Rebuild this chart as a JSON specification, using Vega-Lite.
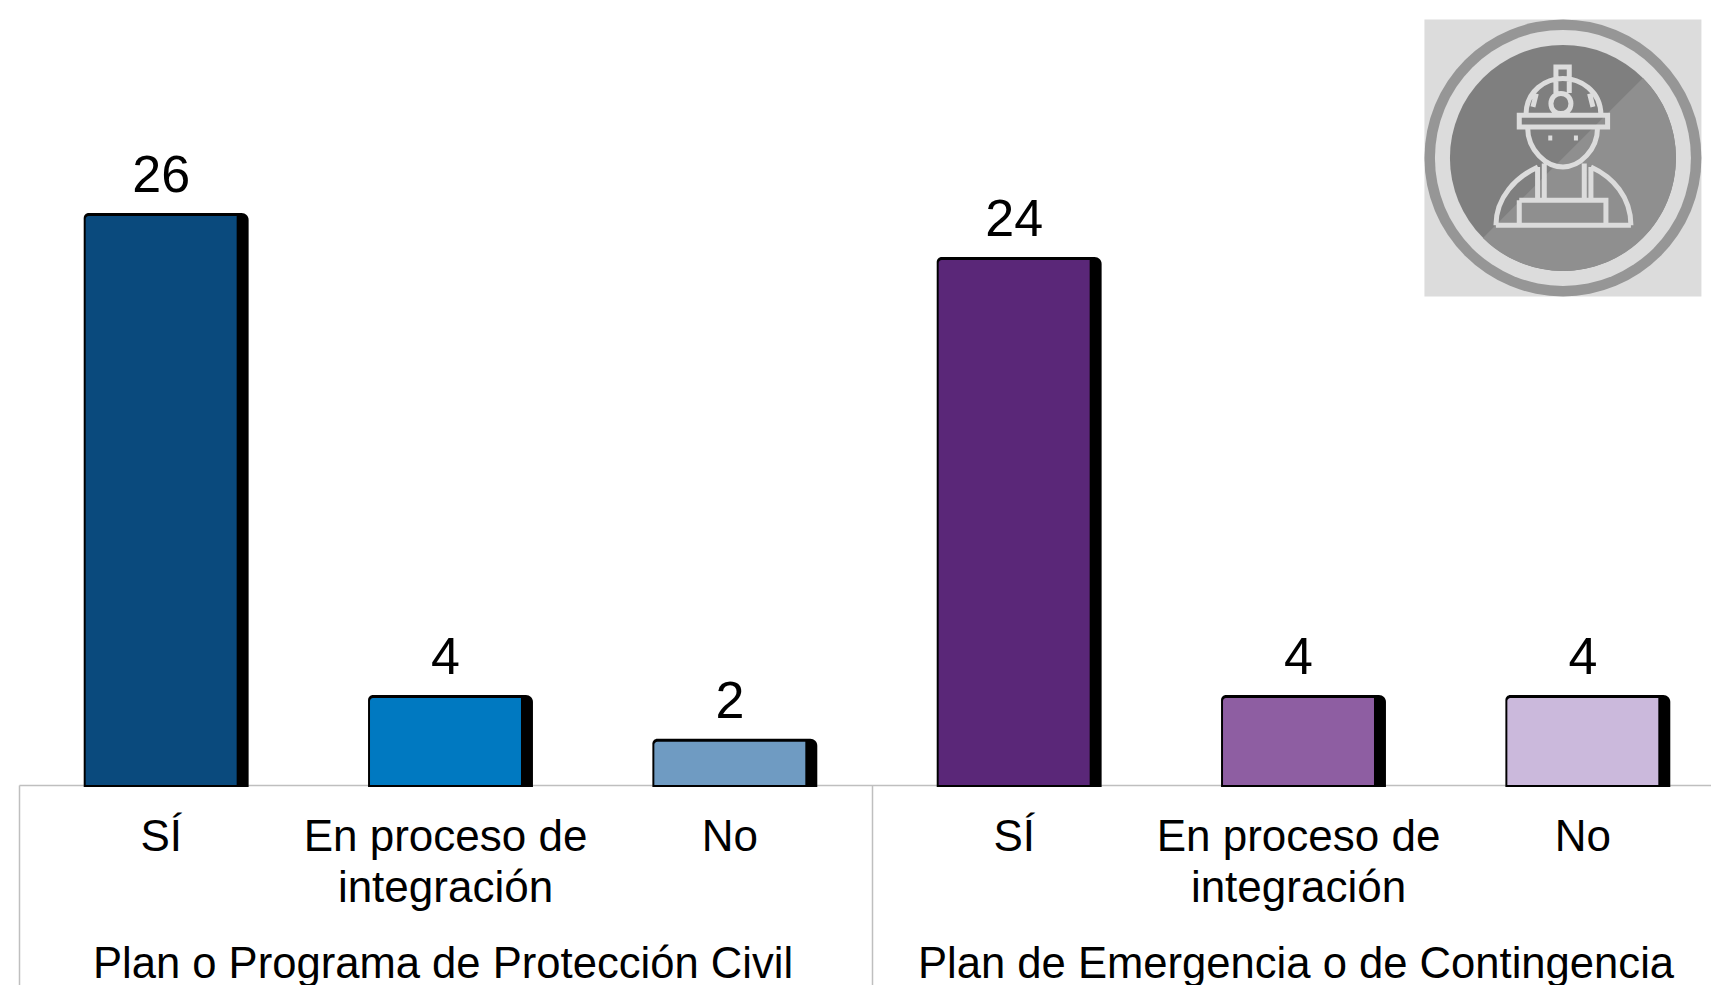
{"$schema":"https://vega.github.io/schema/vega-lite/v6.json","width":1711,"height":785,"autosize":{"type":"none"},"padding":{"left":0,"top":0,"right":0,"bottom":200},"background":"white","config":{"view":{"stroke":null},"font":"Liberation Sans"},"datasets":{"d":[{"key":"Protección Civil · SÍ","group":"Plan o Programa de Protección Civil","answer":"SÍ","value":26},{"key":"Protección Civil · En proceso de integración","group":"Plan o Programa de Protección Civil","answer":"En proceso de integración","value":4},{"key":"Protección Civil · No","group":"Plan o Programa de Protección Civil","answer":"No","value":2},{"key":"Emergencia · SÍ","group":"Plan de Emergencia o de Contingencia","answer":"SÍ","value":24},{"key":"Emergencia · En proceso de integración","group":"Plan de Emergencia o de Contingencia","answer":"En proceso de integración","value":4},{"key":"Emergencia · No","group":"Plan de Emergencia o de Contingencia","answer":"No","value":4}],"icon":[{"name":"icono"}]},"resolve":{"scale":{"x":"independent"},"axis":{"x":"independent"}},"layer":[{"data":{"name":"d"},"mark":{"type":"bar","opacity":0},"encoding":{"x":{"field":"group","type":"nominal","sort":null,"title":null,"scale":{"domain":["Plan o Programa de Protección Civil","Plan de Emergencia o de Contingencia"],"range":[19,1725],"paddingInner":0,"paddingOuter":0},"axis":{"orient":"bottom","labelAngle":0,"labelLimit":0,"labelFontSize":43.6,"labelColor":"black","labelFont":"Liberation Sans","labelPadding":-42,"labelOffset":-3,"labelBaseline":"top","tickBand":"extent","tickSize":200,"tickColor":"#bfbfbf","tickWidth":1.5,"domainColor":"#bfbfbf","domainWidth":1.5,"labelOverlap":false,"labelBound":false}},"y":{"field":"value","type":"quantitative","stack":null,"axis":null,"scale":{"domain":[-0.114,35.73],"range":[785,0],"nice":false,"zero":false}}}},{"layer":[{"data":{"name":"d"},"mark":{"type":"bar","color":"black","xOffset":5,"width":{"band":0.58},"cornerRadiusTopLeft":5,"cornerRadiusTopRight":7},"encoding":{"x":{"field":"key","type":"nominal","sort":null,"title":null,"scale":{"domain":["Protección Civil · SÍ","Protección Civil · En proceso de integración","Protección Civil · No","Emergencia · SÍ","Emergencia · En proceso de integración","Emergencia · No"],"range":[19,1725],"paddingInner":0,"paddingOuter":0},"axis":{"orient":"bottom","labelAngle":0,"labelLimit":0,"labelFontSize":44,"labelColor":"black","labelFont":"Liberation Sans","labelPadding":30,"labelBaseline":"top","labelLineHeight":51,"labelOverlap":false,"labelBound":false,"ticks":false,"domain":false,"labelExpr":"indexof(datum.label,'proceso')>=0?['En proceso de','integración']:split(datum.label,' · ')[1]"}},"y":{"field":"value","type":"quantitative","stack":null},"y2":{"datum":-0.2}}},{"data":{"name":"d"},"mark":{"type":"bar","yOffset":3,"y2Offset":0,"width":{"band":0.531},"cornerRadiusTopLeft":3},"encoding":{"x":{"field":"key","type":"nominal","sort":null},"y":{"field":"value","type":"quantitative","stack":null},"y2":{"datum":-0.114},"color":{"field":"key","type":"nominal","legend":null,"scale":{"domain":["Protección Civil · SÍ","Protección Civil · En proceso de integración","Protección Civil · No","Emergencia · SÍ","Emergencia · En proceso de integración","Emergencia · No"],"range":["#0a4a7d","#0079c1","#6f9bc2","#5a2778","#8e5ea2","#cbb9dc"]}}}},{"data":{"name":"d"},"mark":{"type":"text","fontSize":52,"font":"Liberation Sans","color":"black","baseline":"alphabetic","align":"center","dy":-21},"encoding":{"x":{"field":"key","type":"nominal","sort":null},"y":{"field":"value","type":"quantitative","stack":null},"text":{"field":"value","type":"quantitative"}}},{"data":{"name":"icon"},"mark":{"type":"point","shape":"square","filled":true,"color":"#dcdcdc","opacity":1,"size":76729},"encoding":{"x":{"datum":"Emergencia · No","type":"nominal","bandPosition":0.43},"y":{"datum":28.52,"type":"quantitative"}}},{"data":{"name":"icon"},"mark":{"type":"point","shape":"circle","filled":true,"color":"#969696","opacity":1,"size":76729},"encoding":{"x":{"datum":"Emergencia · No","type":"nominal","bandPosition":0.43},"y":{"datum":28.52,"type":"quantitative"}}},{"data":{"name":"icon"},"mark":{"type":"point","shape":"circle","filled":true,"color":"#dcdcdc","opacity":1,"size":65536},"encoding":{"x":{"datum":"Emergencia · No","type":"nominal","bandPosition":0.43},"y":{"datum":28.52,"type":"quantitative"}}},{"data":{"name":"icon"},"mark":{"type":"point","shape":"circle","filled":true,"color":"#7f7f7f","opacity":1,"size":51076},"encoding":{"x":{"datum":"Emergencia · No","type":"nominal","bandPosition":0.43},"y":{"datum":28.52,"type":"quantitative"}}},{"data":{"name":"icon"},"mark":{"type":"point","filled":true,"color":"#8f8f8f","opacity":1,"size":0.4444,"shape":"M240,-240 C372,-108 372,108 240,240 C108,372 -108,372 -240,240 Z"},"encoding":{"x":{"datum":"Emergencia · No","type":"nominal","bandPosition":0.43},"y":{"datum":28.52,"type":"quantitative"}}},{"data":{"name":"icon"},"mark":{"type":"point","filled":false,"stroke":"#dcdcdc","strokeWidth":5,"opacity":1,"size":0.4444,"shape":"M-131,-128 L134,-128 L134,-93 L-131,-93 Z M-111,-128 C-111,-203 -50,-238 0,-238 C50,-238 114,-203 114,-128 M-21,-195 L-21,-273 L19,-273 L19,-195 M-36,-163 C-36,-203 24,-203 24,-163 C24,-123 -36,-123 -36,-163 M-106,-93 C-106,-23 -50,27 0,27 C50,27 104,-23 104,-93 M-201,202 L204,202 M-201,202 C-201,117 -140,57 -75,27 M204,202 C204,117 150,57 84,27 M-76,27 L-76,127 M-56,17 L-56,127 M84,27 L84,127 M64,17 L64,127 M-131,127 L129,127 L129,202 M-131,127 L-131,202 M-80,-193 L-90,-153 M80,-193 L90,-153 M-44,-60 L-32,-60 M33,-60 L45,-60"},"encoding":{"x":{"datum":"Emergencia · No","type":"nominal","bandPosition":0.43},"y":{"datum":28.52,"type":"quantitative"}}}]}]}
